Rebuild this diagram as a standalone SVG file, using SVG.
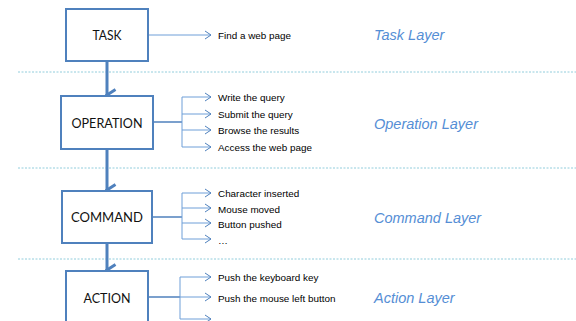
<svg xmlns="http://www.w3.org/2000/svg" width="576" height="321" viewBox="0 0 576 321">
  <defs>
    <marker id="open" viewBox="0 0 8 10" refX="7" refY="5" markerWidth="8" markerHeight="10" markerUnits="userSpaceOnUse" orient="auto">
      <path d="M1,1 L7,5 L1,9" fill="none" stroke="#4f81bd" stroke-width="1"/>
    </marker>
    <marker id="down" viewBox="0 0 14 12" refX="7" refY="10" markerWidth="14" markerHeight="12" markerUnits="userSpaceOnUse" orient="auto-start-reverse">
      <path d="M1.5,1.5 L7,10 L12.5,1.5" fill="none" stroke="#4f81bd" stroke-width="3" stroke-linejoin="miter"/>
    </marker>
  </defs>
  <style>
    .box { fill: #ffffff; stroke: #4f81bd; stroke-width: 2; }
    .name { font-family: Lato, "Liberation Sans", sans-serif; font-size: 14px; fill: #111111; text-anchor: middle; }
    .item { font-family: "Liberation Sans", Arial, sans-serif; font-size: 9.9px; fill: #000000; }
    .layer { font-family: "Liberation Sans", Arial, sans-serif; font-style: italic; font-size: 14.5px; fill: #558ed5; }
    .sep { stroke: #92cddc; stroke-width: 1; stroke-dasharray: 2 1.5; fill: none; }
    .feed { stroke: #4f81bd; stroke-width: 1.5; fill: none; }
    .branch { stroke: #6f9fd8; stroke-width: 1; fill: none; marker-end: url(#open); }
    .spine { stroke: #6f9fd8; stroke-width: 1; fill: none; }
    .flow { stroke: #4f81bd; stroke-width: 3; fill: none; marker-end: url(#down); }
  </style>

  <rect width="576" height="321" fill="#ffffff"/>

  <!-- layer separators -->
  <g id="separators">
    <line class="sep" x1="18" y1="72" x2="576" y2="72"/>
    <line class="sep" x1="18" y1="168" x2="576" y2="168"/>
    <line class="sep" x1="18" y1="259" x2="576" y2="259"/>
  </g>

  <!-- connectors -->
  <g id="connectors">
    <!-- vertical flow between layers -->
    <line class="flow" x1="107" y1="61" x2="107" y2="95"/>
    <line class="flow" x1="107" y1="149" x2="107" y2="190"/>
    <line class="flow" x1="107" y1="243" x2="107" y2="270"/>

    <!-- task -->
    <line class="branch" x1="148" y1="35" x2="211" y2="35"/>

    <!-- operation -->
    <line class="feed" x1="153" y1="122" x2="182" y2="122"/>
    <line class="spine" x1="182" y1="97" x2="182" y2="147"/>
    <line class="branch" x1="182" y1="97" x2="211" y2="97"/>
    <line class="branch" x1="182" y1="114" x2="211" y2="114"/>
    <line class="branch" x1="182" y1="130" x2="211" y2="130"/>
    <line class="branch" x1="182" y1="147" x2="211" y2="147"/>

    <!-- command -->
    <line class="feed" x1="152" y1="217" x2="182" y2="217"/>
    <line class="spine" x1="182" y1="193" x2="182" y2="239"/>
    <line class="branch" x1="182" y1="193" x2="211" y2="193"/>
    <line class="branch" x1="182" y1="208" x2="211" y2="208"/>
    <line class="branch" x1="182" y1="223" x2="211" y2="223"/>
    <line class="branch" x1="182" y1="239" x2="211" y2="239"/>

    <!-- action -->
    <line class="feed" x1="148" y1="297" x2="180" y2="297"/>
    <line class="spine" x1="180" y1="277" x2="180" y2="319"/>
    <line class="branch" x1="180" y1="277" x2="211" y2="277"/>
    <line class="branch" x1="180" y1="297" x2="211" y2="297"/>
    <line class="branch" x1="180" y1="319" x2="211" y2="319"/>
  </g>

  <g id="task">
    <rect class="box" x="66" y="9" width="82" height="52"/>
    <text class="name" x="107" y="40" textLength="29" lengthAdjust="spacingAndGlyphs">TASK</text>
  </g>
  <g id="operation">
    <rect class="box" x="61" y="96" width="92" height="53"/>
    <text class="name" x="107" y="128" textLength="71" lengthAdjust="spacingAndGlyphs">OPERATION</text>
  </g>
  <g id="command">
    <rect class="box" x="62" y="191" width="90" height="52"/>
    <text class="name" x="107" y="222" textLength="72" lengthAdjust="spacingAndGlyphs">COMMAND</text>
  </g>
  <g id="action">
    <rect class="box" x="66" y="271" width="82" height="60"/>
    <text class="name" x="107" y="303" textLength="47" lengthAdjust="spacingAndGlyphs">ACTION</text>
  </g>

  <!-- items -->
  <g id="items">
    <text class="item" x="218" y="38.5">Find a web page</text>
    <text class="item" x="218" y="100.5">Write the query</text>
    <text class="item" x="218" y="117.5">Submit the query</text>
    <text class="item" x="218" y="133.5">Browse the results</text>
    <text class="item" x="218" y="150.5">Access the web page</text>
    <text class="item" x="218" y="196.5">Character inserted</text>
    <text class="item" x="218" y="212.5">Mouse moved</text>
    <text class="item" x="218" y="227.5">Button pushed</text>
    <text class="item" x="218" y="244">…</text>
    <text class="item" x="218" y="280.5">Push the keyboard key</text>
    <text class="item" x="218" y="301.5">Push the mouse left button</text>
  </g>

  <!-- layer names -->
  <g id="layers">
    <text class="layer" x="374" y="40">Task Layer</text>
    <text class="layer" x="374" y="129">Operation Layer</text>
    <text class="layer" x="374" y="223">Command Layer</text>
    <text class="layer" x="374" y="303">Action Layer</text>
  </g>
</svg>
